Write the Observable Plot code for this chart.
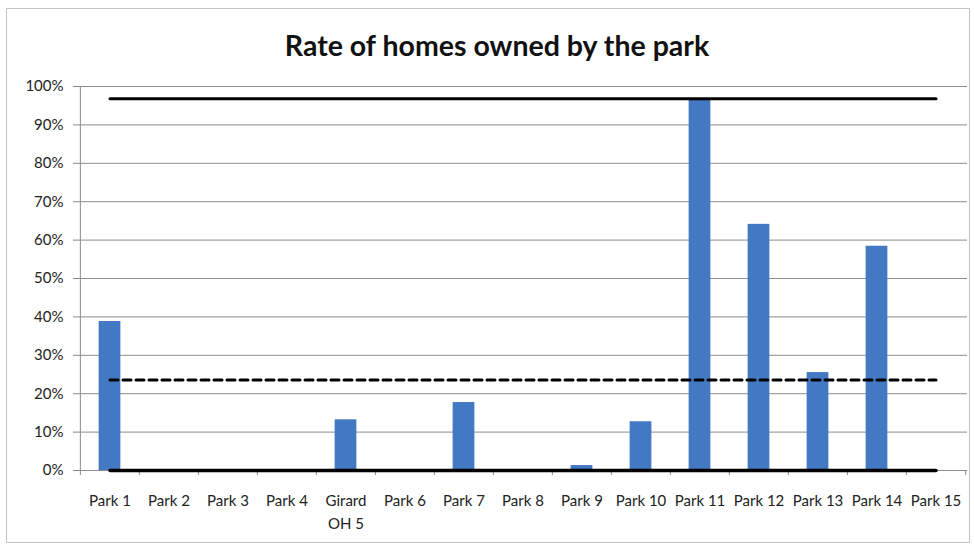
<!DOCTYPE html>
<html>
<head>
<meta charset="utf-8">
<script src="https://cdn.jsdelivr.net/npm/d3@7"></script>
<script src="https://cdn.jsdelivr.net/npm/@observablehq/plot@0.6"></script>
<style>
  body { margin: 0; background: #fff; font-family: Lato, "Open Sans", sans-serif; }
  #wrap { position: relative; width: 974px; height: 550px; overflow: hidden; background: #fff; }
  #frame { position: absolute; left: 6px; top: 8px; width: 962px; height: 533px; border: 1px solid #c4c4c4; pointer-events: none; z-index: 5; }
  #title { position: absolute; left: 10px; top: 0; width: 974px; height: 70px; line-height: 90px; text-align: center;
           font-family: Lato, sans-serif; font-weight: bold; font-size: 28.5px; color: #111; }
  #chart { position: absolute; left: 0; top: 70px; }
</style>
</head>
<body>
<div id="wrap">
  <div id="frame"></div>
  <div id="title">Rate of homes owned by the park</div>
  <div id="chart"></div>
</div>
<script>
// Categories (x axis)
const parks = ["Park 1","Park 2","Park 3","Park 4","Girard OH 5","Park 6","Park 7","Park 8",
               "Park 9","Park 10","Park 11","Park 12","Park 13","Park 14","Park 15"];
// Tick labels as shown (Girard wraps onto two lines)
const tickLabels = ["Park 1","Park 2","Park 3","Park 4","Girard\nOH 5","Park 6","Park 7","Park 8",
                    "Park 9","Park 10","Park 11","Park 12","Park 13","Park 14","Park 15"];
// Rate of homes owned by the park (fraction)
const rates = [0.388, 0, 0, 0, 0.132, 0, 0.177, 0, 0.013, 0.127, 0.968, 0.641, 0.255, 0.584, 0];
// Reference lines (maximum, average, minimum)
const maxRate = 0.968;
const avgRate = 0.236;
const minRate = 0;
// Y tick values
const yTicks = [0, 0.1, 0.2, 0.3, 0.4, 0.5, 0.6, 0.7, 0.8, 0.9, 1.0];

const rows = parks.map((p, i) => ({park: p, rate: rates[i]}));
const lineRows = (v) => parks.map(p => ({park: p, value: v}));

const W = 974, H = 480, mL = 78, mR = 7, mT = 16, mB = 80;
const step = (W - mL - mR) / parks.length;
const barWidth = 22;
const inset = (step - barWidth) / 2;
const gray = "#8c8c8c";
const blue = "#4379c2";

const chart = Plot.plot({
  width: W, height: H,
  marginLeft: mL, marginRight: mR, marginTop: mT, marginBottom: mB,
  style: {fontFamily: "Lato, sans-serif", background: "#fff"},
  x: {domain: parks, padding: 0},
  y: {domain: [0, 1]},
  marks: [
    Plot.gridY(yTicks, {stroke: gray, strokeOpacity: 1, strokeWidth: 1}),
    Plot.ruleY([0], {stroke: gray, strokeWidth: 1}),
    // y axis line
    Plot.ruleX([parks[0]], {dx: -step / 2, y1: 0, y2: 1, stroke: gray}),
    // category boundary ticks below the x axis
    Plot.ruleX(parks, {x: d => d, dx: -step / 2, y1: 0, y2: 0, insetBottom: -5, stroke: gray}),
    Plot.ruleX([parks[parks.length - 1]], {x: d => d, dx: step / 2, y1: 0, y2: 0, insetBottom: -5, stroke: gray}),
    Plot.barY(rows, {x: "park", y: "rate", fill: blue, insetLeft: inset, insetRight: inset}),
    Plot.lineY(lineRows(maxRate), {x: "park", y: "value", stroke: "#000", strokeWidth: 3}),
    Plot.lineY(lineRows(avgRate), {x: "park", y: "value", stroke: "#000", strokeWidth: 3, strokeDasharray: "8,5"}),
    Plot.lineY(lineRows(minRate), {x: "park", y: "value", stroke: "#000", strokeWidth: 3.5}),
    Plot.axisY(yTicks, {tickSize: 5, tickPadding: 10, tickFormat: d3.format(".0%"), stroke: gray,
                        fill: "#222", fontSize: 15, label: null}),
    Plot.axisX({tickSize: 0, tickPadding: 20, tickFormat: d => tickLabels[parks.indexOf(d)],
                lineHeight: 1.5, fill: "#222", fontSize: 15, label: null})
  ]
});
document.getElementById("chart").appendChild(chart);
</script>
</body>
</html>
